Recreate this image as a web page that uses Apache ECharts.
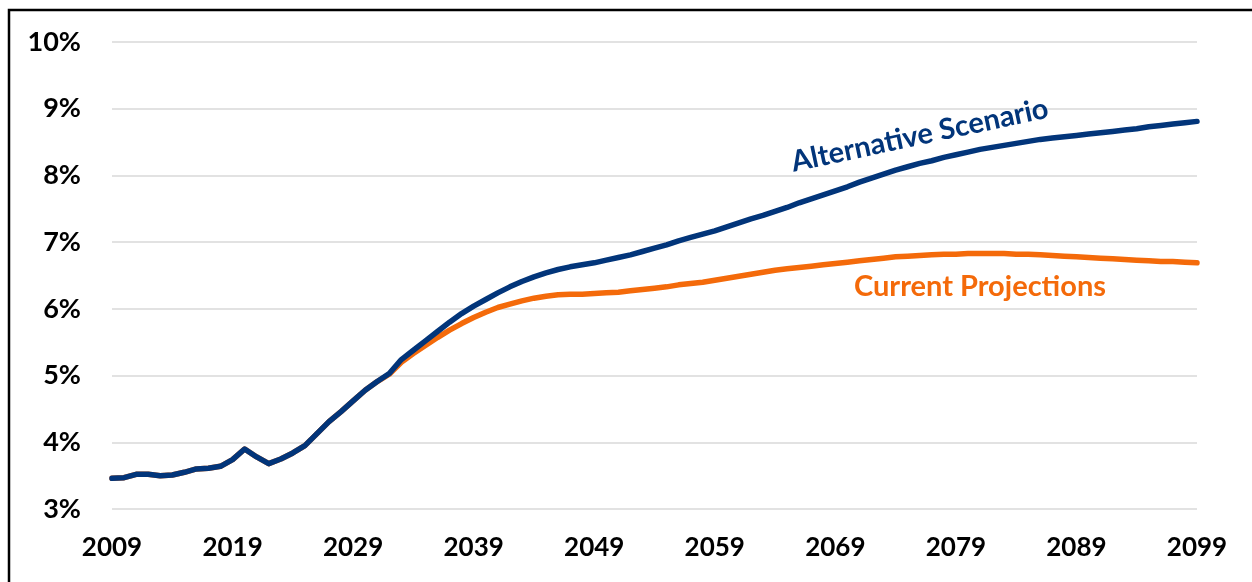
<!DOCTYPE html>
<html>
<head>
<meta charset="utf-8">
<script src="https://cdn.jsdelivr.net/npm/echarts@6/dist/echarts.min.js"></script>
<style>
html,body{margin:0;padding:0;background:#fff;}
#chart{width:1252px;height:582px;}
</style>
</head>
<body>
<div id="chart"></div>
<script>
const years = [];
for (let y = 2009; y <= 2099; y++) years.push(String(y));

const yTicks = [3, 4, 5, 6, 7, 8, 9, 10];

const alternativeScenario = [
  3.46, 3.47, 3.52, 3.52, 3.50, 3.51, 3.55, 3.60, 3.61, 3.64,
  3.74, 3.90, 3.78, 3.68, 3.75, 3.84, 3.95, 4.13, 4.31, 4.46,
  4.62, 4.78, 4.91, 5.03, 5.24, 5.38, 5.52, 5.66, 5.80, 5.93,
  6.04, 6.14, 6.24, 6.33, 6.41, 6.48, 6.54, 6.59, 6.63, 6.66,
  6.69, 6.73, 6.77, 6.81, 6.86, 6.91, 6.96, 7.02, 7.07, 7.12,
  7.17, 7.23, 7.29, 7.35, 7.40, 7.46, 7.52, 7.59, 7.65, 7.71,
  7.77, 7.83, 7.90, 7.96, 8.02, 8.08, 8.13, 8.18, 8.22, 8.27,
  8.31, 8.35, 8.39, 8.42, 8.45, 8.48, 8.51, 8.54, 8.56, 8.58,
  8.60, 8.62, 8.64, 8.66, 8.68, 8.70, 8.73, 8.75, 8.77, 8.79,
  8.81
];

const currentProjections = [
  3.46, 3.47, 3.52, 3.52, 3.50, 3.51, 3.55, 3.60, 3.61, 3.64,
  3.74, 3.90, 3.78, 3.68, 3.75, 3.84, 3.95, 4.13, 4.31, 4.46,
  4.62, 4.78, 4.91, 5.02, 5.20, 5.33, 5.45, 5.57, 5.68, 5.78,
  5.87, 5.95, 6.02, 6.07, 6.12, 6.16, 6.19, 6.21, 6.22, 6.22,
  6.23, 6.24, 6.25, 6.27, 6.29, 6.31, 6.33, 6.36, 6.38, 6.40,
  6.43, 6.46, 6.49, 6.52, 6.55, 6.58, 6.60, 6.62, 6.64, 6.66,
  6.68, 6.70, 6.72, 6.74, 6.76, 6.78, 6.79, 6.80, 6.81, 6.82,
  6.82, 6.83, 6.83, 6.83, 6.83, 6.82, 6.82, 6.81, 6.80, 6.79,
  6.78, 6.77, 6.76, 6.75, 6.74, 6.73, 6.72, 6.71, 6.71, 6.70,
  6.69
];

const seriesNames = ['Current Projections', 'Alternative Scenario'];
const labelAnchors = {
  'Alternative Scenario': ['2076', 8.60],
  'Current Projections': ['2081', 6.34]
};

const BLUE = '#02357a';
const ORANGE = '#f46a0a';
const FONT = 'Lato, "Open Sans", sans-serif';

const chart = echarts.init(document.getElementById('chart'));
chart.setOption({
  animation: false,
  backgroundColor: '#ffffff',
  grid: { left: 112, right: 55, top: 42, bottom: 73, containLabel: false },
  xAxis: {
    type: 'category',
    data: years,
    boundaryGap: false,
    axisLine: { show: false },
    axisTick: { show: false },
    splitLine: { show: false },
    axisLabel: {
      interval: 9,
      margin: 26,
      color: '#000',
      fontFamily: FONT,
      fontWeight: 'bold',
      fontSize: 26
    }
  },
  yAxis: {
    type: 'value',
    min: yTicks[0],
    max: yTicks[yTicks.length - 1],
    interval: 1,
    axisLine: { show: false },
    axisTick: { show: false },
    splitLine: { lineStyle: { color: '#d9d9d9', width: 1.5 } },
    axisLabel: {
      margin: 31,
      color: '#000',
      fontFamily: FONT,
      fontWeight: 'bold',
      fontSize: 27,
      formatter: v => v + '%'
    }
  },
  series: [
    {
      name: seriesNames[0],
      type: 'line',
      data: currentProjections,
      showSymbol: false,
      lineStyle: { color: ORANGE, width: 5.5, cap: 'round', join: 'round' },
      z: 2
    },
    {
      name: seriesNames[1],
      type: 'line',
      data: alternativeScenario,
      showSymbol: false,
      lineStyle: { color: BLUE, width: 5.5, cap: 'round', join: 'round' },
      z: 3
    }
  ]
});

const pA = chart.convertToPixel({ seriesIndex: 1 }, labelAnchors['Alternative Scenario']);
const pC = chart.convertToPixel({ seriesIndex: 0 }, labelAnchors['Current Projections']);

chart.setOption({
  graphic: [
    {
      type: 'rect',
      shape: { x: 9, y: 10, width: 1400, height: 700 },
      style: { fill: 'none', stroke: '#000', lineWidth: 2.5 },
      silent: true,
      z: 100
    },
    {
      type: 'text',
      x: pA[0], y: pA[1],
      rotation: 12 * Math.PI / 180,
      style: {
        text: 'Alternative Scenario',
        fill: BLUE,
        font: 'bold 29px ' + FONT,
        align: 'center',
        verticalAlign: 'middle'
      },
      z: 100
    },
    {
      type: 'text',
      x: pC[0], y: pC[1],
      style: {
        text: 'Current Projections',
        fill: ORANGE,
        font: 'bold 29px ' + FONT,
        align: 'center',
        verticalAlign: 'middle'
      },
      z: 100
    }
  ]
});
</script>
</body>
</html>
